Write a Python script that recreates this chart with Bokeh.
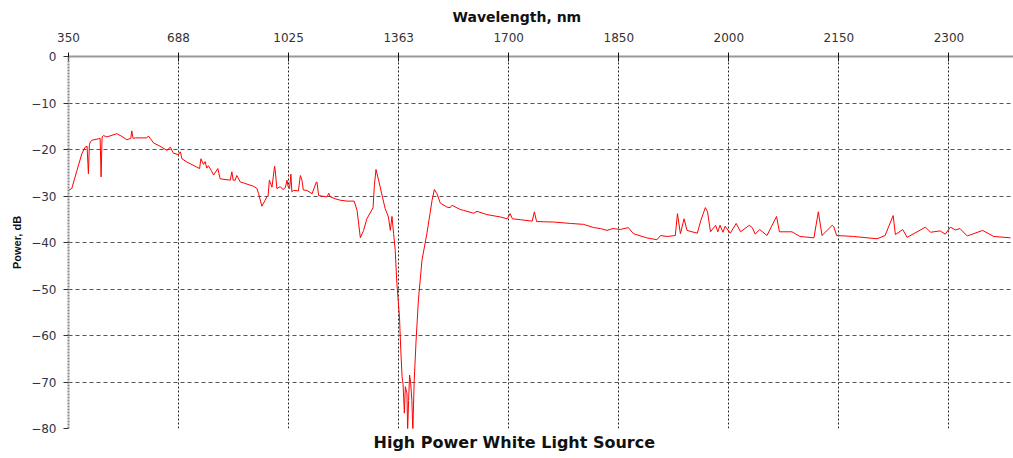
import numpy as np
from bokeh.plotting import figure
from bokeh.models import Range1d, FixedTicker, Title
from bokeh.embed import file_html
from bokeh.resources import INLINE

# ---- data -------------------------------------------------------------
TICK_NM = [350, 688, 1025, 1363, 1700, 1850, 2000, 2150, 2300]
Y_TICKS = [0, -10, -20, -30, -40, -50, -60, -70, -80]
X_END_NM = 2388

WL_NM = [
    350, 360, 376, 391, 401, 407, 411, 414, 417, 422, 442, 447, 450, 453, 457, 468,
    498, 514, 529, 541, 544, 548, 555, 590, 595, 611, 631, 652, 662, 672, 687, 693,
    698, 713, 744, 752, 756, 764, 769, 774, 779, 790, 795, 808, 815, 846, 851, 855,
    861, 866, 877, 887, 917, 928, 933, 943, 953, 958, 962, 966, 974, 982, 984, 989,
    999, 1008, 1015, 1020, 1024, 1028, 1032, 1035, 1040, 1055, 1061, 1066, 1070, 1081,
    1097, 1110, 1112, 1117, 1143, 1148, 1153, 1168, 1183, 1204, 1226, 1235, 1245, 1255,
    1265, 1284, 1288, 1293, 1301, 1321, 1331, 1337, 1342, 1347, 1352, 1357, 1365, 1369,
    1373, 1376, 1380, 1383, 1388, 1390, 1393, 1396, 1399, 1403, 1406, 1410, 1416, 1423,
    1434, 1449, 1465, 1472, 1480, 1490, 1511, 1521, 1526, 1551, 1562, 1592, 1603, 1633,
    1674, 1695, 1702, 1705, 1716, 1732, 1735, 1738, 1761, 1784, 1802, 1816, 1825, 1834,
    1842, 1852, 1863, 1870, 1888, 1902, 1907, 1916, 1927, 1930, 1934, 1939, 1943, 1957,
    1962, 1968, 1971, 1975, 1982, 1985, 1988, 1992, 1995, 2002, 2010, 2016, 2028, 2032,
    2036, 2042, 2052, 2065, 2069, 2086, 2097, 2116, 2122, 2127, 2141, 2143, 2147, 2170,
    2202, 2213, 2224, 2227, 2237, 2243, 2268, 2275, 2288, 2295, 2302, 2309, 2315, 2325,
    2346, 2361, 2384,
]
POWER_DB = [
    -28.8, -28.4, -24.5, -20.9, -19.5, -19.3, -25.2, -19.0, -18.4, -18.0, -17.7, -17.6, -25.9, -17.3, -17.0, -17.3,
    -16.6, -17.2, -17.9, -17.6, -16.0, -17.6, -17.5, -17.5, -17.1, -18.6, -19.3, -20.2, -19.5, -20.8, -21.1, -20.5,
    -22.0, -22.7, -23.8, -24.1, -22.0, -23.2, -22.6, -24.0, -23.5, -24.8, -25.5, -24.1, -26.3, -26.6, -24.8, -26.6,
    -26.6, -25.6, -27.0, -27.2, -27.9, -28.4, -29.5, -32.2, -30.9, -30.2, -30.0, -26.6, -28.1, -23.6, -24.5, -28.4,
    -28.0, -28.6, -28.2, -26.6, -28.1, -28.4, -25.3, -29.1, -28.8, -28.9, -25.6, -26.6, -28.7, -28.8,
    -29.5, -27.0, -27.0, -29.9, -30.2, -29.4, -30.2, -30.6, -30.9, -31.1, -31.1, -33.1, -39.0, -37.4,
    -34.9, -32.5, -27.7, -24.3, -26.6, -32.7, -34.5, -37.4, -34.4, -38.1, -41.7, -48.8, -56.0, -63.2,
    -68.9, -70.5, -76.7, -71.0, -72.5, -80.5, -74.0, -68.5, -70.0, -73.9, -80.5, -70.0, -61.0, -52.4,
    -43.8, -38.1, -30.9, -28.6, -29.5, -31.5, -32.4, -32.5, -32.0, -32.9, -33.1, -33.7, -33.3, -34.0,
    -34.5, -34.9, -33.8, -34.9, -35.1, -35.4, -33.4, -35.5, -35.6, -35.9, -36.1, -36.8, -37.0, -37.4,
    -37.0, -37.2, -36.8, -38.1, -39.0, -39.4, -38.5, -38.7, -38.5, -33.8, -38.1, -34.9, -37.4, -38.0,
    -35.2, -32.5, -33.4, -37.7, -36.3, -37.7, -36.3, -37.8, -36.5, -38.0, -35.9, -37.7, -36.3, -36.8,
    -38.2, -37.2, -38.5, -34.4, -37.7, -37.7, -38.7, -39.0, -33.4, -38.5, -36.3, -36.6, -38.5, -38.7,
    -39.2, -38.5, -34.2, -38.3, -37.2, -38.9, -36.7, -37.8, -37.5, -38.2, -36.7, -37.3, -37.0, -38.6,
    -37.4, -38.7, -39.0,
]


def axis_pos(nm):
    """Instrument's piecewise wavelength scale: labelled ticks are equally spaced."""
    nm = np.asarray(nm, dtype=float)
    step1 = (TICK_NM[4] - TICK_NM[0]) / 4.0
    step2 = (TICK_NM[8] - TICK_NM[4]) / 4.0
    return np.where(nm <= TICK_NM[4],
                    (nm - TICK_NM[0]) / step1,
                    4 + (nm - TICK_NM[4]) / step2)


x = axis_pos(WL_NM)
x_end = float(axis_pos([X_END_NM])[0])

p = figure(width=1013, height=458,
           x_range=Range1d(0, x_end), y_range=Range1d(-80, 0),
           x_axis_location="above", title=None,
           output_backend="svg", toolbar_location=None,
           min_border_left=68, min_border_right=0,
           min_border_top=56, min_border_bottom=30)
p.outline_line_color = None
p.background_fill_color = "white"

# top (wavelength) axis
xa = p.xaxis[0]
xa.ticker = FixedTicker(ticks=list(range(len(TICK_NM))))
xa.major_label_overrides = {i: str(t) for i, t in enumerate(TICK_NM)}
xa.axis_line_color = "#999999"
xa.axis_line_width = 2
xa.major_tick_in = 5
xa.major_tick_out = 4
xa.major_tick_line_color = "#111111"
xa.minor_tick_line_color = None
xa.major_label_text_font = "DejaVu Sans"
xa.major_label_text_font_size = "12px"
xa.major_label_text_color = "#333333"
xa.major_label_standoff = 11

# left (power) axis
ya = p.yaxis[0]
ya.ticker = FixedTicker(ticks=Y_TICKS)
ya.axis_line_color = "#888888"
ya.axis_line_dash = "2 1"
ya.axis_line_width = 2
ya.major_tick_in = 0
ya.major_tick_out = 5
ya.major_tick_line_color = "#333333"
ya.minor_tick_line_color = None
ya.major_label_text_font = "DejaVu Sans"
ya.major_label_text_font_size = "12px"
ya.major_label_text_color = "#333344"
ya.major_label_standoff = 7
ya.axis_label = "Power, dB"
ya.axis_label_text_font = "Liberation Sans"
ya.axis_label_text_font_size = "11px"
ya.axis_label_text_font_style = "bold"
ya.axis_label_text_color = "#111111"
ya.axis_label_standoff = 5

# grids
p.xgrid.grid_line_color = "#222222"
p.xgrid.grid_line_dash = "2 2"
p.ygrid.grid_line_color = "#555555"
p.ygrid.grid_line_dash = "4 3"

p.line(x, POWER_DB, line_color="#ff0000", line_width=1)

p.add_layout(Title(text="Wavelength, nm", align="left", offset=384,
                   text_font="DejaVu Sans", text_font_size="14px",
                   text_font_style="bold", text_color="#111111"), "above")

# chart caption under the frame
p.add_layout(Title(text="High Power White Light Source", align="left", offset=305,
                   vertical_align="bottom", standoff=4, text_line_height=0.6,
                   text_font="DejaVu Sans", text_font_size="16px",
                   text_font_style="bold", text_color="#111111"), "below")

open("out.html", "w").write(file_html(p, INLINE))
